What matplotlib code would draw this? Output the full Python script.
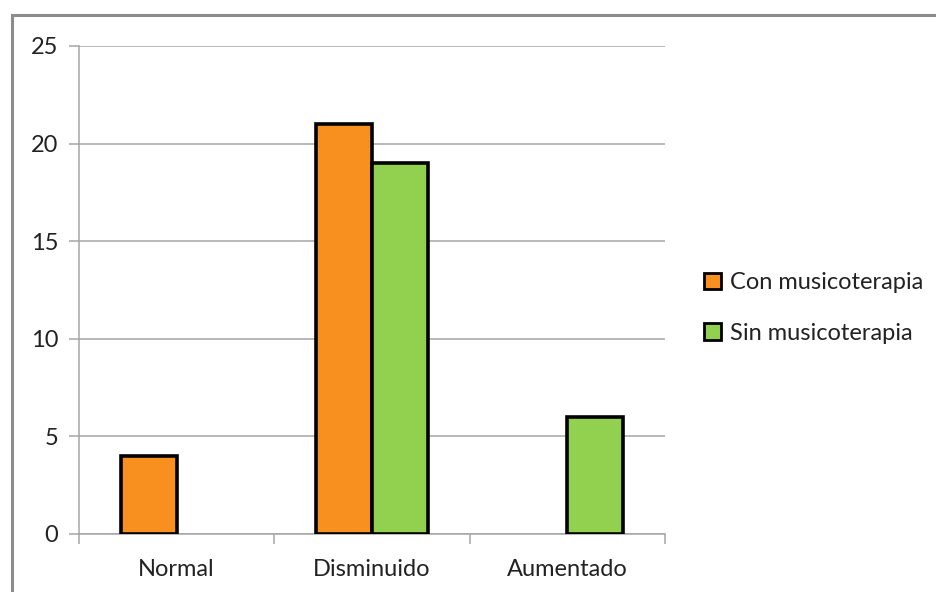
import matplotlib
matplotlib.use("Agg")
import matplotlib.pyplot as plt
from matplotlib.patches import Rectangle
import numpy as np

categories = ["Normal", "Disminuido", "Aumentado"]
con_musicoterapia = [4, 21, 0]
sin_musicoterapia = [0, 19, 6]
series_names = ["Con musicoterapia", "Sin musicoterapia"]
y_ticks = [0, 5, 10, 15, 20, 25]

plt.rcParams["font.family"] = ["Lato", "DejaVu Sans"]

W, H = 937, 592
fig = plt.figure(figsize=(W / 100, H / 100), dpi=100)
fig.patch.set_facecolor("white")

# outer chart-area frame (runs off the right and bottom edges)
fig.add_artist(Rectangle((12 / W, -0.1), 1.2, (H - 15) / H + 0.1,
                         transform=fig.transFigure, fill=False,
                         edgecolor="#8c8c8c", linewidth=2.2, clip_on=False))

ax = fig.add_axes([79 / W, (H - 534) / H, (665 - 79) / W, (534 - 46) / H])

colors = ["#F7901E", "#92D050"]
width = 1 / 3.5
x = np.arange(len(categories)) + 0.5
for i, (vals, c, name) in enumerate(zip([con_musicoterapia, sin_musicoterapia], colors, series_names)):
    pos = x + (i - 0.5) * width
    bars = ax.bar(pos, vals, width=width, color=c, edgecolor="black",
                  linewidth=2.6, label=name, zorder=3)
    for b, v in zip(bars, vals):
        if v == 0:
            b.set_edgecolor("none")

ax.set_xlim(0, len(categories))
ax.set_ylim(0, 25)
ax.set_yticks(y_ticks)
ax.set_yticklabels([str(t) for t in y_ticks])
ax.yaxis.grid(True, color="#a6a6a6", linewidth=1.1, zorder=0)
ax.set_axisbelow(True)

fs = 17
ax.set_xticks(np.arange(len(categories) + 1))
ax.set_xticklabels([])
ax.set_xticks(x, minor=True)
ax.set_xticklabels(categories, minor=True)
ax.tick_params(axis="x", which="major", length=7, color="#a6a6a6", width=1.1)
ax.tick_params(axis="x", which="minor", length=0, pad=18, labelsize=fs, labelcolor="#222222")
ax.tick_params(axis="y", length=7, color="#a6a6a6", width=1.1, pad=8, labelsize=fs, labelcolor="#222222")

for s in ["top", "right"]:
    ax.spines[s].set_visible(False)
for s in ["left", "bottom"]:
    ax.spines[s].set_color("#a6a6a6")
    ax.spines[s].set_linewidth(1.1)

leg = fig.legend(loc="center left", bbox_to_anchor=(683 / W, (H - 308) / H),
                 frameon=False, fontsize=fs, handlelength=0.7, handleheight=0.7,
                 handletextpad=0.4, labelspacing=1.25)
for h in leg.legend_handles:
    h.set_linewidth(2)
    h.set_edgecolor("black")
for t in leg.get_texts():
    t.set_color("#222222")

fig.savefig("out.png", dpi=100)
